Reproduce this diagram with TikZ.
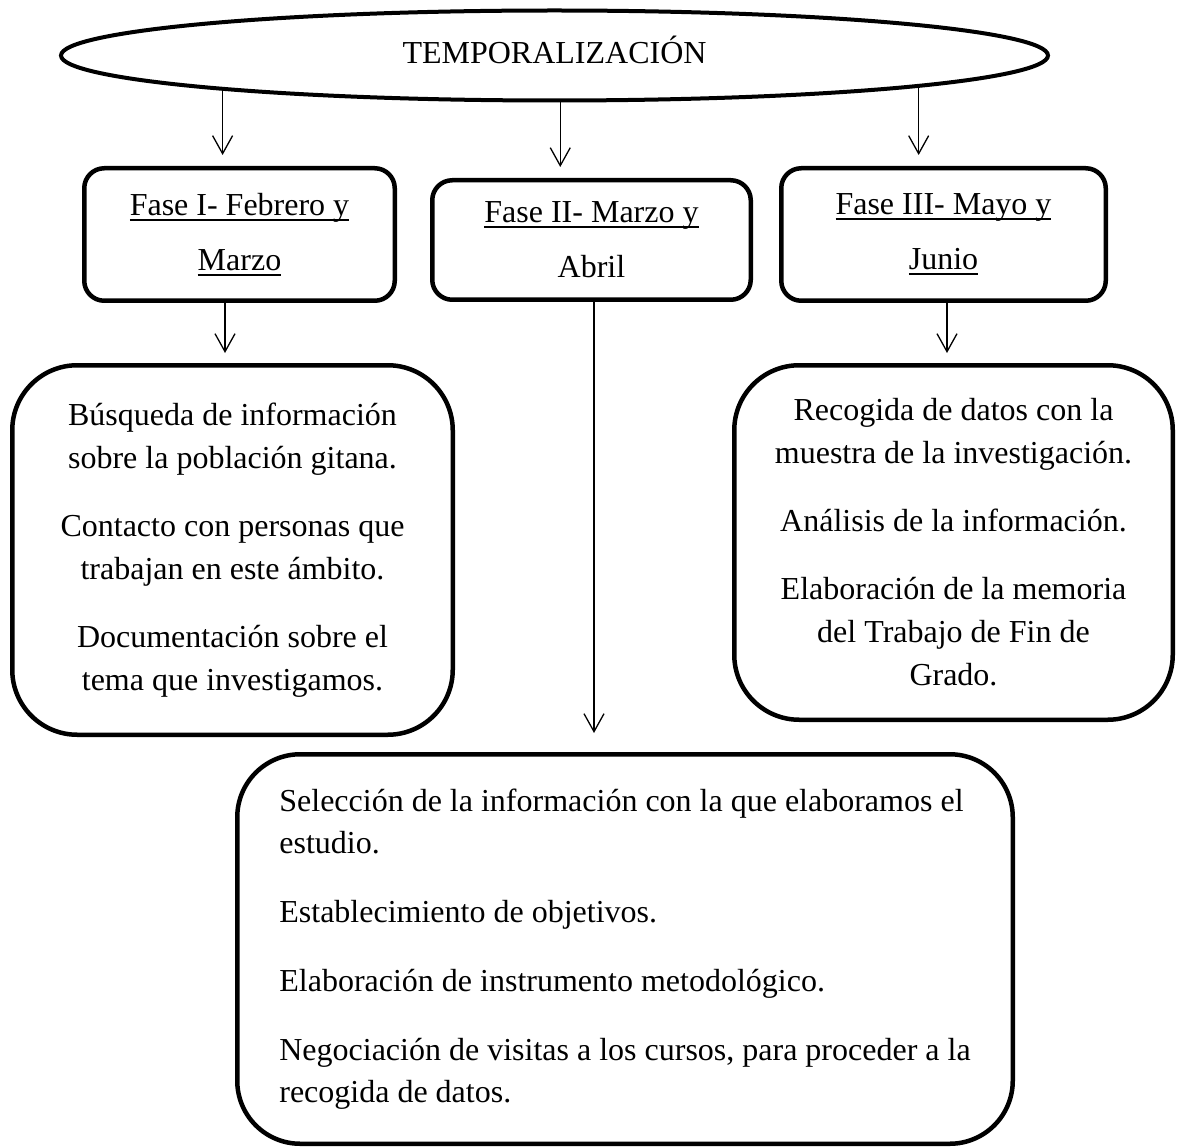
\documentclass[tikz,border=0pt]{standalone}
\usepackage{fontspec}
\setmainfont{Liberation Serif}
\usetikzlibrary{shapes.geometric,arrows.meta}
\newsavebox\ulbox
\newcommand\wul[1]{\sbox\ulbox{#1}\rlap{\rule[-5pt]{\wd\ulbox}{2pt}}\usebox\ulbox}
\begin{document}
\begin{tikzpicture}[x=1pt,y=-1pt,
  fasebox/.style={draw, line width=4.5pt, rounded corners=20pt, align=center, inner sep=0pt, font=\fontsize{32}{55}\selectfont},
  bigbox/.style={draw, line width=4.5pt, rounded corners=65pt, inner sep=0pt, font=\fontsize{32}{43}\selectfont},
  arr/.style={line width=1.3pt, -{Straight Barb[length=18pt,width=20pt]}}]
\useasboundingbox (0,0) rectangle (1177,1147);
\node[ellipse, draw, line width=4pt, minimum width=987pt, minimum height=90pt, inner sep=0pt,
      font=\fontsize{32}{38}\selectfont, text height=16pt, text depth=0pt] (temp) at (554.5,55.5) {TEMPORALIZACIÓN};

\node[fasebox, minimum width=310.5pt, minimum height=132.5pt] (fI) at (239.5,234.5)
  {\wul{Fase I- Febrero y}\\\wul{Marzo}};
\node[fasebox, minimum width=318.5pt, minimum height=119.5pt] (fII) at (591.5,240)
  {\wul{Fase II- Marzo y}\\Abril};
\node[fasebox, minimum width=324.5pt, minimum height=132.5pt] (fIII) at (943.5,234.5)
  {\wul{Fase III- Mayo y}\\\wul{Junio}};

\node[bigbox, align=center, minimum width=440.5pt, minimum height=369.5pt] (lb) at (232.5,550)
  {Búsqueda de información\\sobre la población gitana.\\[25pt]Contacto con personas que\\trabajan en este ámbito.\\[25pt]Documentación sobre el\\tema que investigamos.};
\node[bigbox, align=center, minimum width=438.5pt, minimum height=354.5pt] (rb) at (953.5,542.5)
  {Recogida de datos con la\\muestra de la investigación.\\[25pt]Análisis de la información.\\[25pt]Elaboración de la memoria\\del Trabajo de Fin de\\Grado.};
\node[bigbox, align=left, rounded corners=63pt, font=\fontsize{32}{42}\selectfont, minimum width=775.5pt, minimum height=389.5pt] (bb) at (625,949)
  {Selección de la información con la que elaboramos el\\estudio.\\[27pt]Establecimiento de objetivos.\\[27pt]Elaboración de instrumento metodológico.\\[27pt]Negociación de visitas a los cursos, para proceder a la\\recogida de datos.};

\draw[arr, shorten >=11pt] (temp.186.3) -- (temp.186.3 |- fI.north);
\draw[arr, shorten >=11pt] (temp.277.4) -- (temp.277.4 |- fII.north);
\draw[arr, shorten >=11pt] (temp.355.1) -- (temp.355.1 |- fIII.north);
\draw[arr, shorten >=10pt] ([xshift=-14.5pt]fI.south) -- ([xshift=-14.5pt]fI.south |- lb.north);
\draw[arr, shorten >=10pt] ([xshift=3.5pt]fIII.south) -- ([xshift=3.5pt]fIII.south |- rb.north);
\draw[arr, shorten >=19pt] ([xshift=2.5pt]fII.south) -- ([xshift=2.5pt]fII.south |- bb.north);
\end{tikzpicture}
\end{document}
